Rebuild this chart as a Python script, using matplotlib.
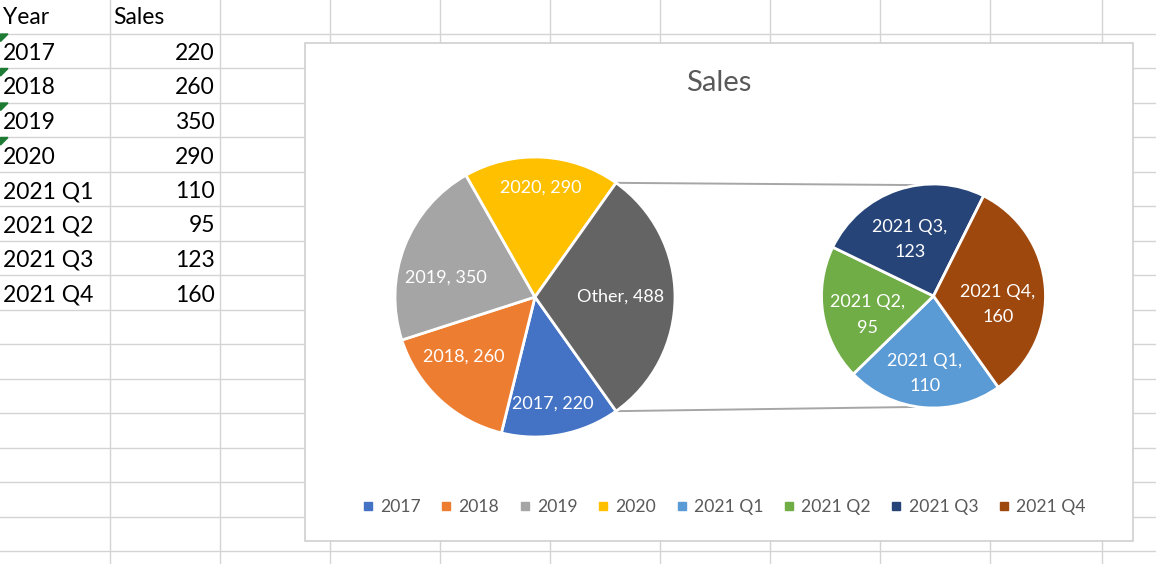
import matplotlib
matplotlib.use("Agg")
import matplotlib.pyplot as plt
from matplotlib.patches import Rectangle, Polygon
from matplotlib.lines import Line2D
import numpy as np

# ---------------- data ----------------
years = ["2017", "2018", "2019", "2020"]
year_sales = [220, 260, 350, 290]
quarters = ["2021 Q1", "2021 Q2", "2021 Q3", "2021 Q4"]
quarter_sales = [110, 95, 123, 160]
other_label = "Other"

year_colors = ["#4472C4", "#ED7D31", "#A5A5A5", "#FFC000"]
other_color = "#646464"
quarter_colors = ["#5B9BD5", "#70AD47", "#264478", "#9E480E"]

FONT = ["Lato", "DejaVu Sans"]
plt.rcParams["font.family"] = FONT

W, H = 1156, 564
fig = plt.figure(figsize=(W / 100, H / 100), dpi=100)
ax = fig.add_axes([0, 0, 1, 1])

def Y(y):  # pixel row -> data y
    return H - y

# ---------------- spreadsheet grid ----------------
grid_c = "#d4d4d4"
col_x = [109.5, 219.5, 330, 440, 550, 660, 770, 880, 990, 1102]
row_h = 34.5
for x in col_x:
    ax.plot([x, x], [0, H], color=grid_c, lw=1, zorder=1)
for k in range(1, 17):
    y = k * row_h - 1
    ax.plot([0, W], [Y(y), Y(y)], color=grid_c, lw=1, zorder=1)

# cells
cell_fs = 16.5
ax.text(3, Y(18), "Year", fontsize=cell_fs, va="center", ha="left", zorder=3)
ax.text(113, Y(18), "Sales", fontsize=cell_fs, va="center", ha="left", zorder=3)
all_labels = years + quarters
all_vals = year_sales + quarter_sales
for i, (lab, v) in enumerate(zip(all_labels, all_vals)):
    yc = (i + 1) * row_h + 19
    ax.text(3, Y(yc), lab, fontsize=cell_fs, va="center", ha="left", zorder=3)
    ax.text(215, Y(yc), str(v), fontsize=cell_fs, va="center", ha="right", zorder=3)
    if i < len(years):
        top = (i + 1) * row_h - 0.5
        tri = Polygon([[0.5, Y(top)], [8, Y(top)], [0.5, Y(top + 7.5)]],
                      closed=True, color="#1E7B34", zorder=3)
        ax.add_patch(tri)

# ---------------- chart area ----------------
cx0, cy0, cx1, cy1 = 305, 43, 1133, 541
ax.add_patch(Rectangle((cx0, Y(cy1)), cx1 - cx0, cy1 - cy0,
                       facecolor="white", edgecolor="#d0d0d0", lw=1.2, zorder=4))

ax.text(719, Y(83), "Sales", fontsize=21, color="#595959", ha="center", va="center", zorder=6)

# left pie
c1 = (535, Y(297)); r1 = 140
left_vals = year_sales + [sum(quarter_sales)]
left_names = years + [other_label]
left_cols = year_colors + [other_color]
other_deg = left_vals[-1] / sum(left_vals) * 360
start1 = -other_deg / 2
w1, _ = ax.pie(left_vals, colors=left_cols, center=c1, radius=r1,
               startangle=start1, counterclock=False,
               wedgeprops=dict(edgecolor="white", linewidth=2),
               frame=True)
for w in w1:
    w.set_zorder(6)

# right pie
c2 = (933.5, Y(296)); r2 = 112
w2, _ = ax.pie(quarter_sales, colors=quarter_colors, center=c2, radius=r2,
               startangle=start1, counterclock=False,
               wedgeprops=dict(edgecolor="white", linewidth=2),
               frame=True)
for w in w2:
    w.set_zorder(6)

# connector lines
for sgn in (1, -1):
    a = np.deg2rad(sgn * other_deg / 2)
    p0 = (c1[0] + r1 * np.cos(a), c1[1] + r1 * np.sin(a))
    b = np.deg2rad(90 + 8) if sgn > 0 else np.deg2rad(-90 - 8)
    p1 = (c2[0] + r2 * np.cos(b), c2[1] + r2 * np.sin(b))
    ax.plot([p0[0], p1[0]], [p0[1], p1[1]], color="#a6a6a6", lw=1.4, zorder=5)

# data labels
lab_fs = 13
left_rf = [0.77, 0.66, 0.65, 0.78, 0.61]
left_da = [-1, -7, 9, 0, 0]
for w, name, v, rf, da in zip(w1, left_names, left_vals, left_rf, left_da):
    mid = np.deg2rad((w.theta1 + w.theta2) / 2 + da)
    ax.text(c1[0] + rf * r1 * np.cos(mid), c1[1] + rf * r1 * np.sin(mid),
            f"{name}, {v}", fontsize=lab_fs, color="white",
            ha="center", va="center", zorder=7)
right_rf = [0.70, 0.61, 0.55, 0.58]
right_da = [-1, 7, 4, -12]
for w, name, v, rf, da in zip(w2, quarters, quarter_sales, right_rf, right_da):
    mid = np.deg2rad((w.theta1 + w.theta2) / 2 + da)
    ax.text(c2[0] + rf * r2 * np.cos(mid), c2[1] + rf * r2 * np.sin(mid),
            f"{name},\n{v}", fontsize=lab_fs, color="white",
            ha="center", va="center", zorder=7, linespacing=1.7)

# legend
handles = [Line2D([], [], marker="s", linestyle="none", markersize=5.5,
                  markerfacecolor=c, markeredgecolor=c)
           for c in year_colors + quarter_colors]
leg = ax.legend(handles, years + quarters, loc="center",
                bbox_to_anchor=(723 / W, 1 - 507 / H),
                bbox_transform=fig.transFigure, ncol=8, frameon=False,
                fontsize=12.6, handlelength=0.8, handletextpad=0.3,
                columnspacing=1.06, borderpad=0, borderaxespad=0)
for t in leg.get_texts():
    t.set_color("#595959")
leg.set_zorder(8)

ax.set_xlim(0, W)
ax.set_ylim(0, H)
ax.set_aspect("auto")
ax.axis("off")

fig.savefig("out.png", dpi=100, facecolor="white")
